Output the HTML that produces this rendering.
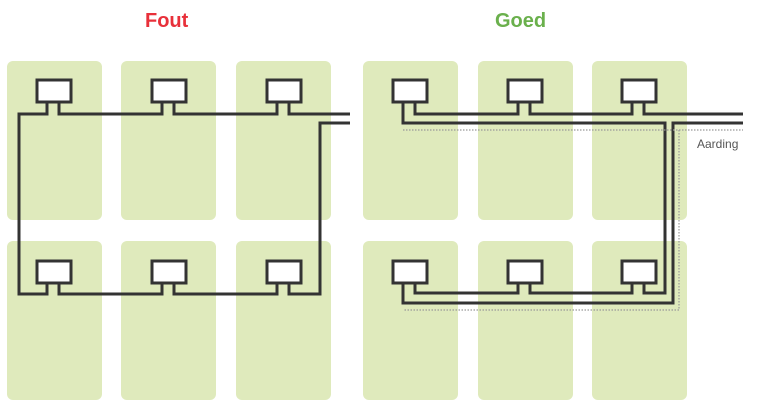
<!DOCTYPE html>
<html><head><meta charset="utf-8"><style>
html,body{margin:0;padding:0;background:#fff;}
svg{display:block;}
</style></head><body>
<svg width="757" height="407" viewBox="0 0 757 407" xmlns="http://www.w3.org/2000/svg">
<g fill="#dfeabc">
<rect x="7" y="61" width="95" height="159" rx="6"/>
<rect x="121" y="61" width="95" height="159" rx="6"/>
<rect x="236" y="61" width="95" height="159" rx="6"/>
<rect x="7" y="241" width="95" height="159" rx="6"/>
<rect x="121" y="241" width="95" height="159" rx="6"/>
<rect x="236" y="241" width="95" height="159" rx="6"/>
<rect x="363" y="61" width="95" height="159" rx="6"/>
<rect x="478" y="61" width="95" height="159" rx="6"/>
<rect x="592" y="61" width="95" height="159" rx="6"/>
<rect x="363" y="241" width="95" height="159" rx="6"/>
<rect x="478" y="241" width="95" height="159" rx="6"/>
<rect x="592" y="241" width="95" height="159" rx="6"/>
</g>
<text x="145" y="27" font-family="Liberation Sans, sans-serif" font-weight="bold" font-size="20" fill="#e8303a">Fout</text>
<text x="495" y="27" font-family="Liberation Sans, sans-serif" font-weight="bold" font-size="20" fill="#6ab04c">Goed</text>
<text x="697" y="148" font-family="Liberation Sans, sans-serif" font-size="12" fill="#555">Aarding</text>
<g fill="none" stroke="#333" stroke-width="3">
<!-- Fout wiring -->
<polyline points="350,114 289,114 289,103"/>
<polyline points="277,103 277,114 174,114 174,103"/>
<polyline points="162,103 162,114 59,114 59,103"/>
<polyline points="47,103 47,114 19,114 19,294 47,294 47,283"/>
<polyline points="59,283 59,294 162,294 162,283"/>
<polyline points="174,283 174,294 277,294 277,283"/>
<polyline points="289,283 289,294 320,294 320,123 350,123"/>
<!-- Goed wiring -->
<polyline points="743,114 644,114 644,103"/>
<polyline points="632,103 632,114 530,114 530,103"/>
<polyline points="518,103 518,114 415,114 415,103"/>
<polyline points="403,103 403,123 665,123 665,293 644,293 644,283"/>
<polyline points="632,283 632,293 530,293 530,283"/>
<polyline points="518,283 518,293 415,293 415,283"/>
<polyline points="403,283 403,303 673,303 673,123 743,123"/>
</g>
<g fill="#fff" stroke="#333" stroke-width="3">
<rect x="37" y="80" width="34" height="22"/>
<rect x="152" y="80" width="34" height="22"/>
<rect x="267" y="80" width="34" height="22"/>
<rect x="37" y="261" width="34" height="22"/>
<rect x="152" y="261" width="34" height="22"/>
<rect x="267" y="261" width="34" height="22"/>
<rect x="393" y="80" width="34" height="22"/>
<rect x="508" y="80" width="34" height="22"/>
<rect x="622" y="80" width="34" height="22"/>
<rect x="393" y="261" width="34" height="22"/>
<rect x="508" y="261" width="34" height="22"/>
<rect x="622" y="261" width="34" height="22"/>
</g>
<g fill="none" stroke="#999" stroke-width="1.2" stroke-dasharray="1.5,1.5">
<polyline points="403,130 743,130"/>
<polyline points="679,130 679,310 403,310"/>
</g>
</svg>
</body></html>
